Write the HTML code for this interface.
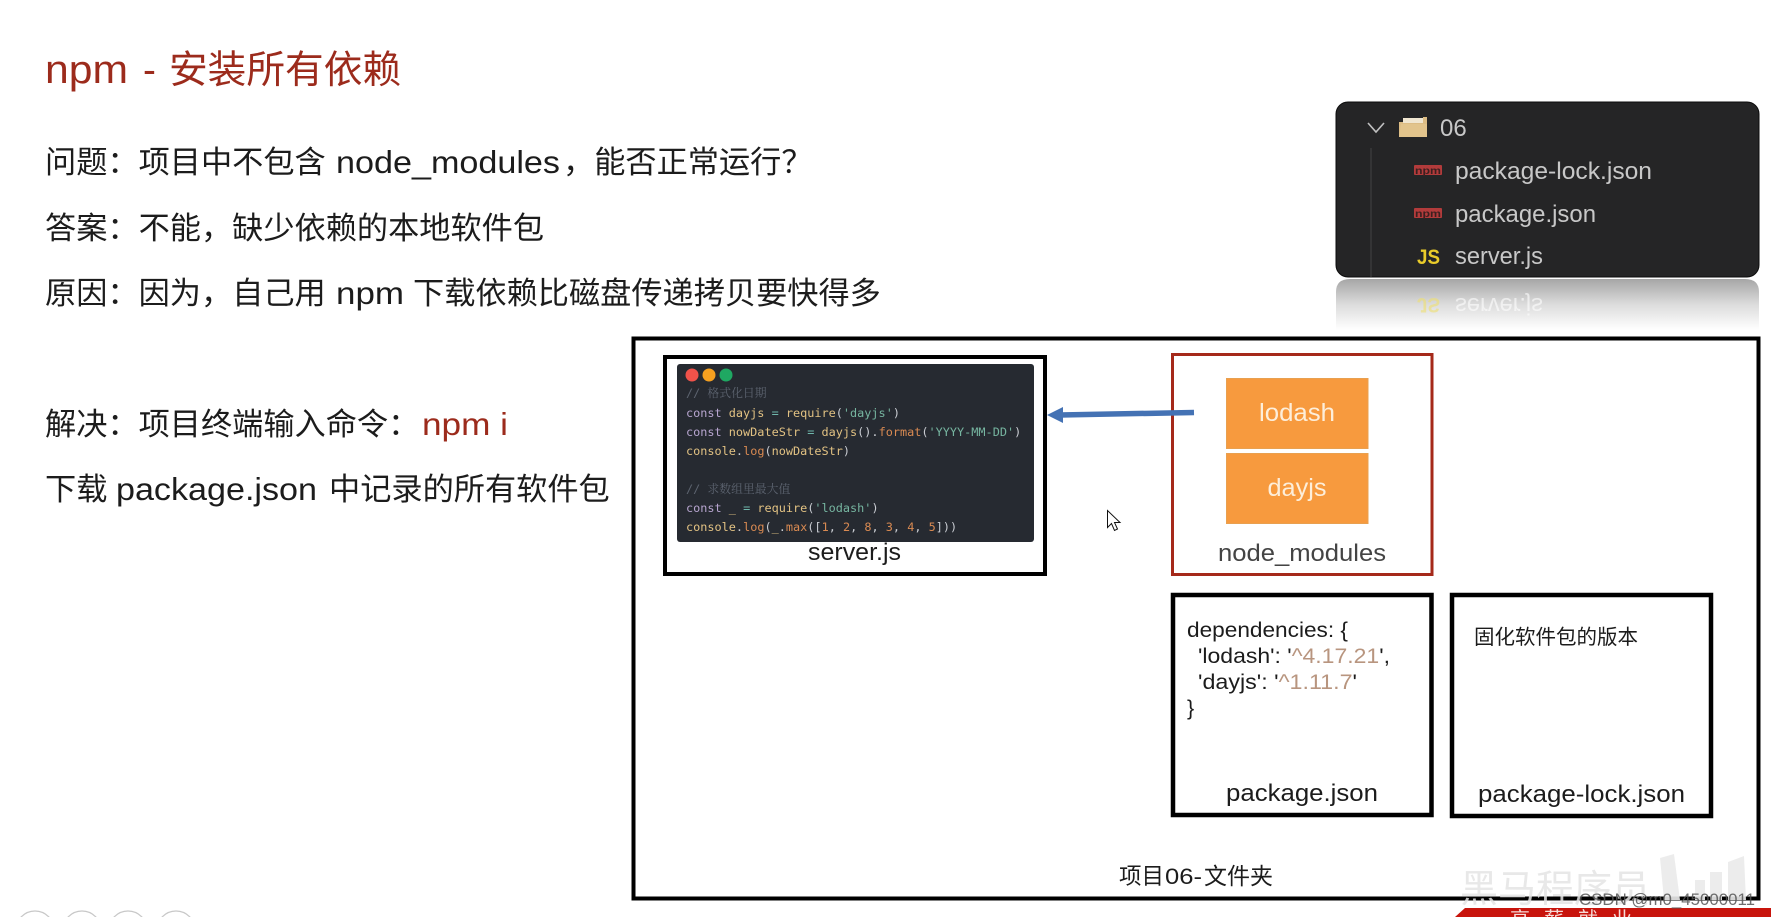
<!DOCTYPE html>
<html lang="zh-CN">
<head>
<meta charset="utf-8">
<style>
html,body{margin:0;padding:0;background:#fff;width:1771px;height:917px;overflow:hidden}
svg{display:block}
text{font-family:"Liberation Sans","Noto Sans CJK SC",sans-serif;white-space:pre}
.b{font-size:31.2px;fill:#1c1c1c}
.f{font-family:"Noto Sans CJK SC",sans-serif}
.c{font-family:"DejaVu Sans Mono","Noto Serif CJK SC",monospace;font-size:11.85px;fill:#d8c890}
.p{fill:#b7a5cf}.y{fill:#e2c283}.t{fill:#6fb7ac}.s{fill:#76b5a0}.o{fill:#d98a52}.w{fill:#c9ccd2}
.cm{fill:#5d6470}
</style>
</head>
<body>
<svg width="1771" height="917" viewBox="0 0 1771 917" xmlns="http://www.w3.org/2000/svg">
<defs>
<linearGradient id="rf" x1="0" y1="0" x2="0" y2="1">
<stop offset="0" stop-color="#a6a6a6"/>
<stop offset="0.5" stop-color="#dcdcdc"/>
<stop offset="1" stop-color="#ffffff"/>
</linearGradient>
</defs>
<rect width="1771" height="917" fill="#fff"/>

<!-- heading -->
<text x="45" y="83" font-size="40" fill="#9c2b1c" textLength="83" lengthAdjust="spacingAndGlyphs">npm</text>
<text x="143" y="83" font-size="38.7" fill="#9c2b1c">-</text>
<text x="169" y="83" font-size="38.7" fill="#9c2b1c">安装所有依赖</text>

<!-- body -->
<text class="b f" x="45" y="173">问题&#xFF1A;项目中不包含</text>
<text class="b" x="336" y="173" textLength="224" lengthAdjust="spacingAndGlyphs">node_modules</text>
<text class="b f" x="563" y="173">&#xFF0C;能否正常运行&#xFF1F;</text>

<text class="b f" x="45" y="239">答案&#xFF1A;不能&#xFF0C;缺少依赖的本地软件包</text>

<text class="b f" x="45" y="304">原因&#xFF1A;因为&#xFF0C;自己用</text>
<text class="b" x="336" y="304" textLength="68" lengthAdjust="spacingAndGlyphs">npm</text>
<text class="b" x="413" y="304">下载依赖比磁盘传递拷贝要快得多</text>

<text class="b f" x="45" y="435">解决&#xFF1A;项目终端输入命令&#xFF1A;</text>
<text x="422" y="435" font-size="31.2" fill="#9c2b1c" textLength="86" lengthAdjust="spacingAndGlyphs">npm i</text>

<text class="b" x="45" y="500">下载</text>
<text class="b" x="116" y="500" textLength="201" lengthAdjust="spacingAndGlyphs">package.json</text>
<text class="b" x="329" y="500">中记录的所有软件包</text>

<!-- explorer panel -->
<path d="M1336 292q0 -13 14 -13h395q14 0 14 13v38h-423z" fill="url(#rf)"/>
<g transform="translate(0,592) scale(1,-1)" opacity="0.6">
<text x="1417" y="294" font-size="21" font-weight="bold" fill="#efe070" textLength="23" lengthAdjust="spacingAndGlyphs">JS</text>
<text x="1455" y="294" font-size="24" fill="#fff" textLength="88" lengthAdjust="spacingAndGlyphs">server.js</text>
</g>
<rect x="1336" y="102" width="423" height="175" rx="12" fill="#252526" stroke="#0c0c0c" stroke-width="1"/>
<path d="M1368 123l8 9 8-9" fill="none" stroke="#c0c0c0" stroke-width="1.6"/>
<path d="M1399 137v-15h4l2-2h18v-3h4v20z" fill="#dcbc84"/>
<rect x="1403" y="118" width="20" height="5" fill="#f0e6d0"/>
<path d="M1399 137l2-13h26v13z" fill="#e2c48c"/>
<text x="1440" y="136" font-size="24" fill="#c8c8c8">06</text>
<line x1="1371" y1="148" x2="1371" y2="277" stroke="#444" stroke-width="1"/>
<rect x="1414" y="165" width="28" height="10" rx="1" fill="#b23b3b"/>
<text x="1415" y="174" font-size="10" font-weight="bold" fill="#3c2020" textLength="26" lengthAdjust="spacingAndGlyphs">npm</text>
<rect x="1414" y="208" width="28" height="10" rx="1" fill="#b23b3b"/>
<text x="1415" y="217" font-size="10" font-weight="bold" fill="#3c2020" textLength="26" lengthAdjust="spacingAndGlyphs">npm</text>
<text x="1417" y="264" font-size="21" font-weight="bold" fill="#e9cb2a" textLength="23" lengthAdjust="spacingAndGlyphs">JS</text>
<text x="1455" y="179" font-size="24" fill="#c8c8c8" textLength="197" lengthAdjust="spacingAndGlyphs">package-lock.json</text>
<text x="1455" y="222" font-size="24" fill="#c8c8c8" textLength="141" lengthAdjust="spacingAndGlyphs">package.json</text>
<text x="1455" y="264" font-size="24" fill="#c8c8c8" textLength="88" lengthAdjust="spacingAndGlyphs">server.js</text>

<!-- project folder -->
<rect x="633.5" y="338.5" width="1125" height="560" fill="#fff" stroke="#000" stroke-width="4"/>

<!-- server.js -->
<rect x="665" y="357" width="380" height="217" fill="#fff" stroke="#000" stroke-width="4"/>
<rect x="677" y="364" width="357" height="178" rx="3" fill="#262a31"/>
<circle cx="692" cy="375" r="6.5" fill="#f0524a"/>
<circle cx="709" cy="375" r="6.5" fill="#f5a020"/>
<circle cx="726" cy="375" r="6.5" fill="#1fa862"/>
<text class="c cm" x="686" y="397">// 格式化日期</text>
<text class="c" x="686" y="417"><tspan class="p">const</tspan><tspan class="y"> dayjs </tspan><tspan class="t">=</tspan><tspan class="y"> require</tspan><tspan class="w">(</tspan><tspan class="s">'dayjs'</tspan><tspan class="w">)</tspan></text>
<text class="c" x="686" y="436"><tspan class="p">const</tspan><tspan class="y"> nowDateStr </tspan><tspan class="t">=</tspan><tspan class="y"> dayjs</tspan><tspan class="w">().</tspan><tspan class="o">format</tspan><tspan class="w">(</tspan><tspan class="s">'YYYY-MM-DD'</tspan><tspan class="w">)</tspan></text>
<text class="c" x="686" y="455"><tspan class="y">console</tspan><tspan class="w">.</tspan><tspan class="o">log</tspan><tspan class="w">(</tspan><tspan class="y">nowDateStr</tspan><tspan class="w">)</tspan></text>
<text class="c cm" x="686" y="493">// 求数组里最大值</text>
<text class="c" x="686" y="512"><tspan class="p">const</tspan><tspan class="y"> _ </tspan><tspan class="t">=</tspan><tspan class="y"> require</tspan><tspan class="w">(</tspan><tspan class="s">'lodash'</tspan><tspan class="w">)</tspan></text>
<text class="c" x="686" y="531"><tspan class="y">console</tspan><tspan class="w">.</tspan><tspan class="o">log</tspan><tspan class="w">(</tspan><tspan class="y">_</tspan><tspan class="w">.</tspan><tspan class="o">max</tspan><tspan class="w">([</tspan><tspan class="o">1</tspan><tspan class="w">, </tspan><tspan class="o">2</tspan><tspan class="w">, </tspan><tspan class="o">8</tspan><tspan class="w">, </tspan><tspan class="o">3</tspan><tspan class="w">, </tspan><tspan class="o">4</tspan><tspan class="w">, </tspan><tspan class="o">5</tspan><tspan class="w">]))</tspan></text>
<text x="808" y="560" font-size="24" fill="#1c1c1c" textLength="93" lengthAdjust="spacingAndGlyphs">server.js</text>

<!-- node_modules -->
<rect x="1172.500" y="354.500" width="259.500" height="220" fill="#fff" stroke="#a5291a" stroke-width="3"/>
<rect x="1226.500" y="378.500" width="141.500" height="70" fill="#f79a3e" stroke="#e8a050" stroke-width="1"/>
<rect x="1226.500" y="453.500" width="141.500" height="70" fill="#f79a3e" stroke="#e8a050" stroke-width="1"/>
<text x="1259" y="421" font-size="25" fill="#fdeeda" textLength="76" lengthAdjust="spacingAndGlyphs">lodash</text>
<text x="1267.500" y="496" font-size="25" fill="#fdeeda" textLength="59" lengthAdjust="spacingAndGlyphs">dayjs</text>
<text x="1218" y="561" font-size="24" fill="#444" textLength="168" lengthAdjust="spacingAndGlyphs">node_modules</text>

<!-- arrow -->
<line x1="1060" y1="415" x2="1194" y2="412.500" stroke="#4472b4" stroke-width="5.500"/>
<path d="M1047 415l16-8v16z" fill="#4472b4"/>

<!-- package.json -->
<rect x="1173" y="595" width="258.500" height="220" fill="#fff" stroke="#000" stroke-width="4.500"/>
<text x="1187" y="637" font-size="21.500" fill="#1c1c1c" textLength="161" lengthAdjust="spacingAndGlyphs">dependencies: {</text>
<text x="1198" y="663" font-size="21.500" fill="#1c1c1c" textLength="192" lengthAdjust="spacingAndGlyphs">'lodash': '<tspan fill="#b8957f">^4.17.21</tspan>',</text>
<text x="1198" y="689" font-size="21.500" fill="#1c1c1c" textLength="159" lengthAdjust="spacingAndGlyphs">'dayjs': '<tspan fill="#b8957f">^1.11.7</tspan>'</text>
<text x="1187" y="715" font-size="21.500" fill="#1c1c1c">}</text>
<text x="1226" y="801" font-size="24" fill="#1c1c1c" textLength="152" lengthAdjust="spacingAndGlyphs">package.json</text>

<!-- package-lock.json -->
<rect x="1452" y="595" width="259" height="221" fill="#fff" stroke="#000" stroke-width="4.500"/>
<text x="1474" y="644" font-size="20.500" fill="#1c1c1c">固化软件包的版本</text>
<text x="1478" y="802" font-size="24" fill="#1c1c1c" textLength="207" lengthAdjust="spacingAndGlyphs">package-lock.json</text>

<text x="1119" y="884" font-size="22.500" fill="#1c1c1c">项目</text>
<text x="1165" y="884" font-size="22.500" fill="#1c1c1c" textLength="37" lengthAdjust="spacingAndGlyphs">06-</text>
<text x="1204" y="884" font-size="23" fill="#1c1c1c">文件夹</text>

<!-- cursor -->
<path d="M1107.500 510.500v17l4-4 3 7 3-1.500-3-6.500h5.500z" fill="#fff" stroke="#111" stroke-width="1"/>

<!-- pagination circles -->
<g fill="#fff" stroke="#c8c8c8" stroke-width="1.200">
<circle cx="-17" cy="930" r="19"/>
<circle cx="35" cy="930" r="19"/>
<circle cx="82" cy="930" r="19"/>
<circle cx="128" cy="930" r="19"/>
<circle cx="176" cy="930" r="19"/>
</g>

<!-- watermark -->
<text x="1460" y="902" font-size="38" fill="#e4e4e4" opacity="0.85">黑马程序员</text>
<g fill="#ebebeb" opacity="0.9">
<path d="M1660 858l14-4 6 46h-16z"/>
<path d="M1695 880h10v20h-10zM1710 872h12v28h-12zM1728 862l16-6 2 44h-18z"/>
</g>
<path d="M1455 917l10-9h306v9z" fill="#c8140c"/>
<text x="1510" y="926" font-size="20" fill="#f6dcd8" letter-spacing="14">高薪就业</text>
<text x="1579" y="905" font-size="16.500" fill="#555" opacity="0.85" textLength="176" lengthAdjust="spacingAndGlyphs">CSDN @m0_45000011</text>
</svg>
</body>
</html>
